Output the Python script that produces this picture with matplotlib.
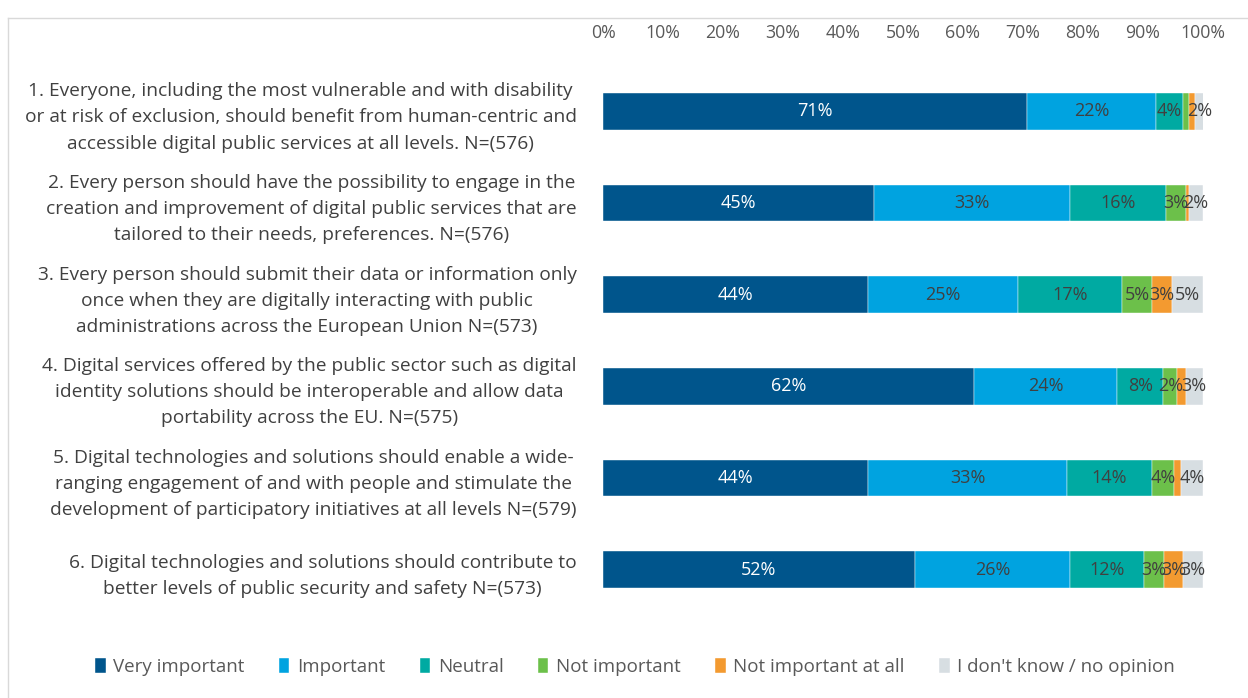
import matplotlib.pyplot as plt
import numpy as np

plt.rcParams['font.family'] = ['Open Sans', 'DejaVu Sans']

# statements (y labels)
statements = [
    "1. Everyone, including the most vulnerable and with disability\nor at risk of exclusion, should benefit from human-centric and\naccessible digital public services at all levels. N=(576)",
    "2. Every person should have the possibility to engage in the\ncreation and improvement of digital public services that are\ntailored to their needs, preferences. N=(576)",
    "3. Every person should submit their data or information only\nonce when they are digitally interacting with public\nadministrations across the European Union N=(573)",
    "4. Digital services offered by the public sector such as digital\nidentity solutions should be interoperable and allow data\nportability across the EU. N=(575)",
    "5. Digital technologies and solutions should enable a wide-\nranging engagement of and with people and stimulate the\ndevelopment of participatory initiatives at all levels N=(579)",
    "6. Digital technologies and solutions should contribute to\nbetter levels of public security and safety N=(573)",
]

answers = ["Very important", "Important", "Neutral", "Not important",
           "Not important at all", "I don't know / no opinion"]

# percentages per answer, one value per statement
very_important = [70.6, 45.2, 44.1, 61.8, 44.2, 52.0]
important      = [21.6, 32.6, 25.0, 23.9, 33.1, 25.8]
neutral        = [4.4, 16.1, 17.4, 7.7, 14.2, 12.3]
not_important  = [1.0, 3.2, 5.0, 2.3, 3.6, 3.4]
not_at_all     = [1.0, 0.5, 3.3, 1.4, 1.2, 3.2]
no_opinion     = [1.6, 2.4, 5.2, 2.9, 3.7, 3.3]

series = [very_important, important, neutral, not_important, not_at_all, no_opinion]
colors = ['#00558C', '#00A3E0', '#00AAA2', '#6CC04A', '#F39A30', '#D7DEE2']
text_colors = ['white', '#404040', '#404040', '#404040', '#404040', '#404040']

W, H = 1248, 698
fig = plt.figure(figsize=(W / 100, H / 100), dpi=100)
ax = fig.add_axes([603 / W, 1 - 620 / H, 600 / W, 570 / H])

y = np.arange(len(statements))
left = np.zeros(len(statements))
for vals, col, tcol, name in zip(series, colors, text_colors, answers):
    vals = np.array(vals)
    bars = ax.barh(y, vals, left=left, height=0.4, color=col, label=name,
                   edgecolor='white', linewidth=0.3)
    for b, v in zip(bars, vals):
        if round(v) >= 2:
            ax.text(b.get_x() + b.get_width() / 2, b.get_y() + b.get_height() / 2,
                    f"{round(v)}%", ha='center', va='center', color=tcol, fontsize=13)
    left += vals

ax.set_xlim(0, 100)
ax.set_ylim(5.55, -0.67)
ax.set_xticks(np.arange(0, 101, 10))
ax.set_xticklabels([f"{t}%" for t in range(0, 101, 10)])
ax.xaxis.tick_top()
ax.tick_params(axis='x', length=0, pad=6, labelsize=12.8, labelcolor='#595959')
ax.set_yticks(y)
ax.set_yticklabels(statements, fontsize=13.8, color='#404040', linespacing=1.58,
                   multialignment='center')
ax.tick_params(axis='y', length=0, pad=19)
for s in ax.spines.values():
    s.set_visible(False)

# chart frame
fig.add_artist(plt.Line2D([8 / W, 1], [1 - 18 / H, 1 - 18 / H], color='#D9D9D9', lw=1))
fig.add_artist(plt.Line2D([8 / W, 8 / W], [0, 1 - 18 / H], color='#D9D9D9', lw=1))

leg = fig.legend(loc='center', bbox_to_anchor=(635 / W, 1 - 667 / H), ncol=6,
                 frameon=False, fontsize=13.5, handlelength=0.55, handleheight=0.9,
                 handletextpad=0.4, columnspacing=1.85)
for t in leg.get_texts():
    t.set_color('#595959')

fig.savefig('out.png', dpi=100)
